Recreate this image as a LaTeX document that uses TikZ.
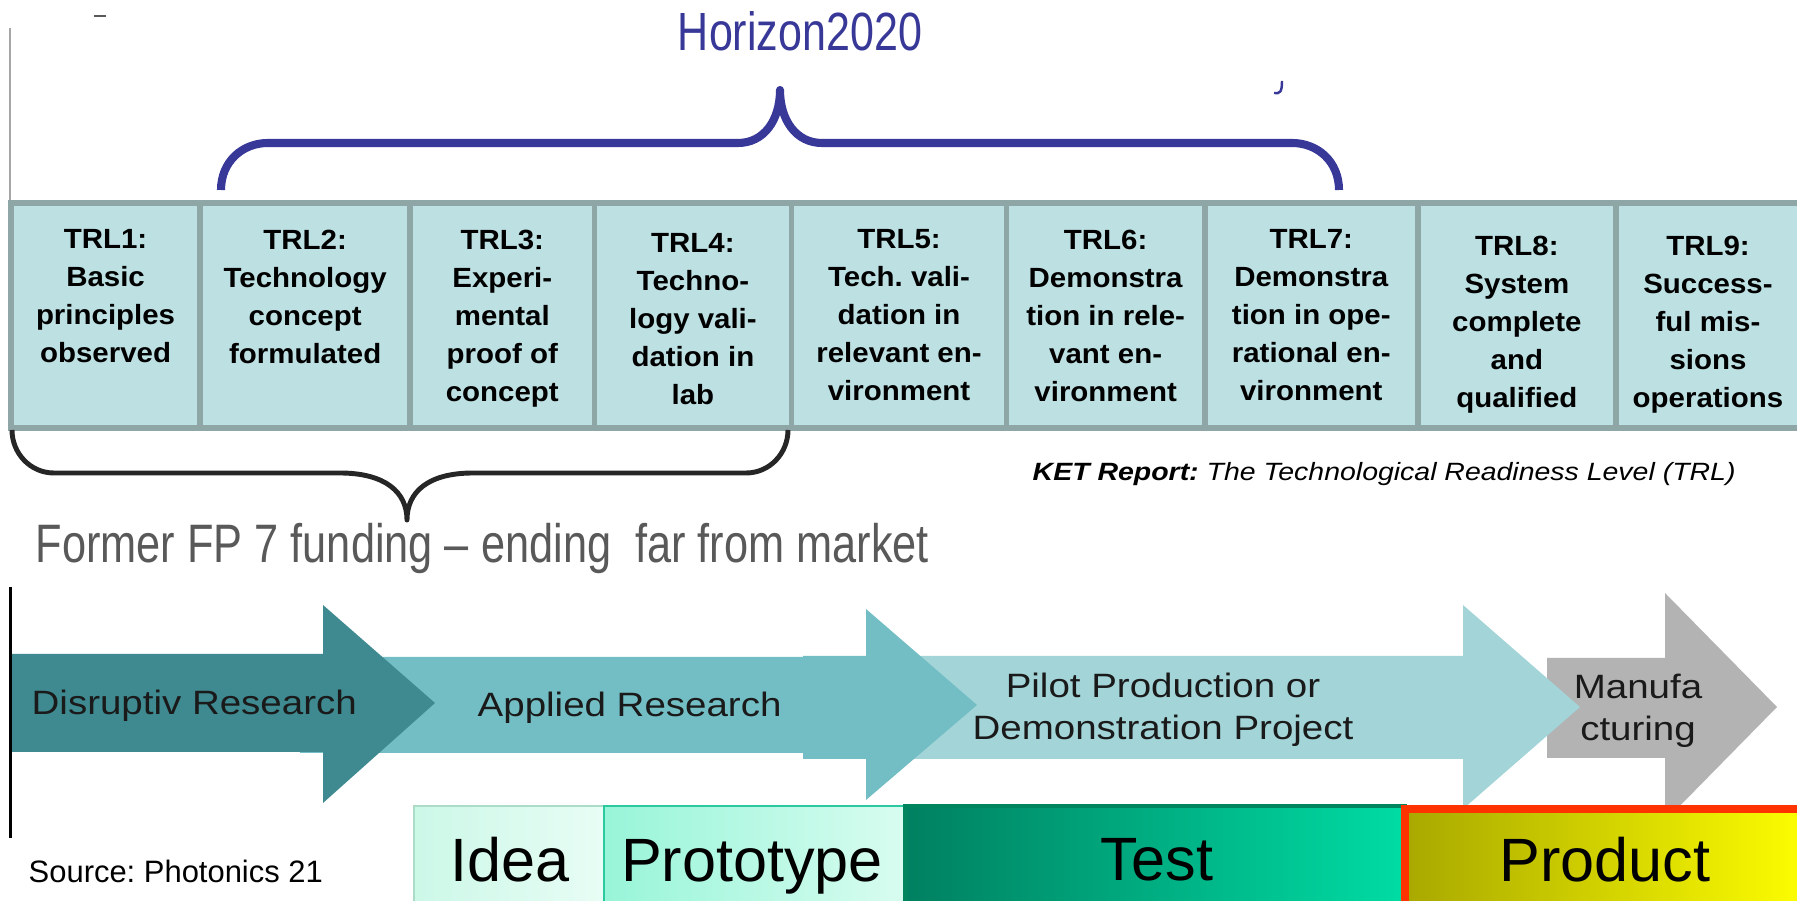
\documentclass[tikz,border=0pt]{standalone}
\usepackage{fontspec}
\setmainfont{Liberation Sans}
\newfontfamily\widesans[FakeStretch=1.14]{Liberation Sans}
\newfontfamily\trlsans[FakeStretch=1.06]{Liberation Sans}
\newfontfamily\narrowsans[FakeStretch=0.80]{Liberation Sans}
\usetikzlibrary{positioning}
\frenchspacing
\definecolor{trlfill}{RGB}{189,224,227}
\definecolor{trlborder}{RGB}{143,166,166}
\definecolor{horizonblue}{RGB}{56,56,152}
\definecolor{fpblack}{RGB}{38,38,38}
\definecolor{fpgray}{RGB}{89,89,89}
\definecolor{disruptiv}{RGB}{62,138,144}
\definecolor{applied}{RGB}{115,190,196}
\definecolor{pilot}{RGB}{162,212,216}
\definecolor{manufa}{RGB}{179,179,179}
\definecolor{flowtext}{RGB}{26,26,26}
\definecolor{idealeft}{RGB}{204,248,232}
\definecolor{idearight}{RGB}{232,253,245}
\definecolor{ideaborder}{RGB}{170,220,200}
\definecolor{protoleft}{RGB}{152,245,216}
\definecolor{protoright}{RGB}{216,252,240}
\definecolor{protoborder}{RGB}{44,200,160}
\definecolor{testleft}{RGB}{0,128,96}
\definecolor{testright}{RGB}{0,220,164}
\definecolor{testborder}{RGB}{0,133,95}
\definecolor{productleft}{RGB}{168,168,0}
\definecolor{productright}{RGB}{255,255,0}
\definecolor{productborder}{RGB}{255,51,0}
\tikzset{%
trlcell/.style={draw=trlborder,fill=trlfill,line width=1.6pt,minimum height=2.25cm,inner sep=0,outer sep=0},
trltext/.style={font=\trlsans\bfseries\fontsize{7.9}{10.8}\selectfont,align=center,inner sep=0,anchor=north},
flowlabel/.style={font=\widesans\fontsize{9.6}{11.8}\selectfont,text=flowtext,align=center,inner sep=0},
phasebox/.style={minimum height=1.04cm,inner sep=0,outer sep=0},
phaselabel/.style={font=\fontsize{17.4}{20}\selectfont,inner sep=0,anchor=base},
bracepath/.style={line width=#1,line cap=butt,line join=round}
}

\begin{document}
\begin{tikzpicture}[x=0.01cm,y=-0.01cm]
  \useasboundingbox (0,0) rectangle (1797,901);

  % screenshot edges
  \draw[gray!70,line width=0.4pt] (10,28) -- (10,200);
  \draw[black,line width=1.1pt] (10.5,587) -- (10.5,838);
  \draw[fpgray,line width=0.6pt] (94,16) -- (106,16);
  \draw[horizonblue,line width=0.7pt] (1282,81) .. controls (1282,92) and (1280,94) .. (1274,93);

  % Horizon2020 brace
  \node[font=\narrowsans\fontsize{15.3}{18}\selectfont,text=horizonblue,inner sep=0,anchor=base] (horizon) at (800,51) {Horizon2020};
  \draw[horizonblue,bracepath=2.3pt] (221,190) .. controls (221,162) and (242,143) .. (268,143)
    -- (738,143) .. controls (764,143) and (780,120) .. (780,90)
    .. controls (780,120) and (796,143) .. (822,143)
    -- (1292,143) .. controls (1318,143) and (1339,162) .. (1339,190);

  % TRL row
  \node[trlcell,minimum width=1.89cm,anchor=north west] (trl1) at (11,203) {};
  \node[trlcell,minimum width=2.10cm,right=0pt of trl1] (trl2) {};
  \node[trlcell,minimum width=1.84cm,right=0pt of trl2] (trl3) {};
  \node[trlcell,minimum width=1.97cm,right=0pt of trl3] (trl4) {};
  \node[trlcell,minimum width=2.15cm,right=0pt of trl4] (trl5) {};
  \node[trlcell,minimum width=1.98cm,right=0pt of trl5] (trl6) {};
  \node[trlcell,minimum width=2.13cm,right=0pt of trl6] (trl7) {};
  \node[trlcell,minimum width=1.98cm,right=0pt of trl7] (trl8) {};
  \node[trlcell,minimum width=1.90cm,right=0pt of trl8] (trl9) {};

  \node[trltext,below=0.26cm of trl1.north] (t1) {TRL1:\\Basic\\principles\\observed};
  \node[trltext,below=0.26cm of trl2.north] (t2) {TRL2:\\Technology\\concept\\formulated};
  \node[trltext,below=0.26cm of trl3.north] (t3) {TRL3:\\Experi-\\mental\\proof of\\concept};
  \node[trltext,below=0.30cm of trl4.north] (t4) {TRL4:\\Techno-\\logy vali-\\dation in\\lab};
  \node[trltext,below=0.26cm of trl5.north] (t5) {TRL5:\\Tech. vali-\\dation in\\relevant en-\\vironment};
  \node[trltext,below=0.26cm of trl6.north] (t6) {TRL6:\\Demonstra\\tion in rele-\\vant en-\\vironment};
  \node[trltext,below=0.26cm of trl7.north] (t7) {TRL7:\\Demonstra\\tion in ope-\\rational en-\\vironment};
  \node[trltext,below=0.32cm of trl8.north] (t8) {TRL8:\\System\\complete\\and\\qualified};
  \node[trltext,below=0.32cm of trl9.north,xshift=-0.03cm] (t9) {TRL9:\\Success-\\ful mis-\\sions\\operations};

  \node[font=\widesans\itshape\fontsize{7.1}{8.5}\selectfont,inner sep=0,anchor=base west] (ket) at (1032,481)
    {\textbf{KET Report:} The Technological Readiness Level (TRL)};

  % FP7 brace
  \draw[fpblack,bracepath=1.4pt] (12,430) .. controls (12,453) and (30,473) .. (54,473)
    -- (340,473) .. controls (385,473) and (407,492) .. (407,520)
    .. controls (407,492) and (428,473) .. (473,473)
    -- (746,473) .. controls (770,473) and (788,453) .. (788,430);
  \node[font=\narrowsans\fontsize{15.4}{18}\selectfont,text=fpgray,inner sep=0,anchor=base west] (fp7) at (35,563)
    {Former FP 7 funding – ending\ \ far from market};

  % flow arrows
  \fill[manufa] (1547,658) -- (1665,658) -- (1665,593) -- (1777,707) -- (1665,821) -- (1665,758) -- (1547,758) -- cycle;
  \fill[pilot] (900,656) -- (1463,656) -- (1463,605) -- (1580,707) -- (1463,809) -- (1463,759) -- (900,759) -- cycle;
  \fill[applied] (300,657) -- (803,657) -- (803,656) -- (866,656) -- (866,609) -- (977,705) -- (866,800)
    -- (866,759) -- (803,759) -- (803,753) -- (300,753) -- cycle;
  \fill[disruptiv] (12,654) -- (323,654) -- (323,605) -- (435,703) -- (323,803) -- (323,752) -- (12,752) -- cycle;

  \node[flowlabel,anchor=base west] (disrupt) at (31,715) {Disruptiv Research};
  \node[flowlabel,anchor=base west] (appl) at (477,717) {Applied Research};
  \node[flowlabel] (pilotprod) at (1163,710) {Pilot Production or\\Demonstration Project};
  \node[flowlabel] (manuf) at (1638,711) {Manufa\\cturing};

  % phases
  \node[phasebox,minimum width=1.90cm,anchor=north west,draw=ideaborder,line width=0.4pt,
    left color=idealeft,right color=idearight] (idea) at (414,806) {};
  \node[phasebox,minimum width=3.01cm,right=0pt of idea,draw=protoborder,line width=0.5pt,
    left color=protoleft,right color=protoright] (proto) {};
  \node[phasebox,minimum width=4.99cm,right=0pt of proto,draw=testborder,line width=1.4pt,
    left color=testleft,right color=testright] (test) {};
  \node[phasebox,minimum width=4.10cm,anchor=north west,draw=productborder,line width=2.3pt,
    left color=productleft,right color=productright] (product) at ([yshift=-0.03cm]test.north east) {};

  \node[phaselabel] (idealabel) at (510,882) {Idea};
  \node[phaselabel] (protolabel) at (752,882) {Prototype};
  \node[phaselabel] (testlabel) at (1157,881) {Test};
  \node[phaselabel] (productlabel) at (1605,882) {Product};

  \node[font=\fontsize{8.8}{10}\selectfont,inner sep=0,anchor=base west] (source) at (28,883) {Source: Photonics 21};
\end{tikzpicture}
\end{document}
